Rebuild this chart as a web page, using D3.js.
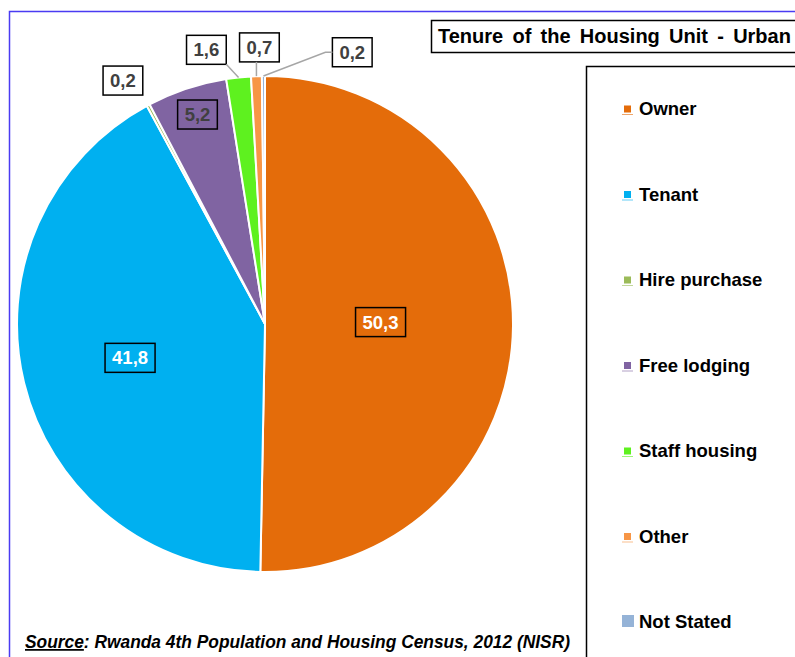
<!DOCTYPE html>
<html lang="en">
<head>
<meta charset="UTF-8" />
<title>Tenure of the Housing Unit - Urban</title>
<script src="https://cdn.jsdelivr.net/npm/d3@7"></script>
<style>
  body { margin: 0; background: #fff; }
  svg { display: block; font-family: "Liberation Sans", Arial, sans-serif; }
</style>
</head>
<body>
<div id="chart"></div>
<script>
// data
const categories = ["Owner", "Tenant", "Hire purchase", "Free lodging", "Staff housing", "Other", "Not Stated"];
const shares = [50.3, 41.8, 0.2, 5.2, 1.6, 0.7, 0.2];
const valueLabels = ["50,3", "41,8", "0,2", "5,2", "1,6", "0,7", "0,2"];
const colors = ["#E46C0A", "#00B0F0", "#9BBB59", "#8064A2", "#5EF11F", "#F79646", "#95B3D7"];

// label placement: radius factor, nudge x, nudge y, inside/outside
const labelPlace = [
  {k: 0.47, dx: -1, dy: -3, inside: true, fg: "#fff"},
  {k: 0.56, dx: 0, dy: 1, inside: true, fg: "#fff"},
  {k: 1.14, dx: -9, dy: 6, inside: false, leader: false},
  {k: 0.89, dx: 2, dy: 0, inside: true, fg: "#404040"},
  {k: 1.12, dx: -29, dy: 2, inside: false, leader: true},
  {k: 1.12, dx: 4, dy: 1, inside: false, leader: true},
  {k: 1.12, dx: 89, dy: 6, inside: false, leader: true}
];

const W = 795, H = 657;
const cx = 265, cy = 324, R = 248;

const svg = d3.select("#chart").append("svg")
  .attr("width", W).attr("height", H);

// outer frame (blue) and legend box
svg.append("path")
  .attr("d", "M9.5," + H + "V11.5H" + W)
  .attr("fill", "none").attr("stroke", "#4A3BF2").attr("stroke-width", 1.5);

svg.append("rect")
  .attr("x", 586.5).attr("y", 66.5).attr("width", 220).attr("height", 620)
  .attr("fill", "#fff").attr("stroke", "#000").attr("stroke-width", 1.5);

// title
svg.append("rect")
  .attr("x", 431.5).attr("y", 20.5).attr("width", 380).attr("height", 32)
  .attr("fill", "#fff").attr("stroke", "#000").attr("stroke-width", 1.5);
svg.append("text")
  .attr("x", 438).attr("y", 43)
  .style("font-size", "20px").style("font-weight", "bold").style("word-spacing", "3.7px")
  .attr("fill", "#000")
  .text("Tenure of the Housing Unit - Urban");

// pie
const pie = d3.pie().sort(null).value(d => d)(shares);
const arc = d3.arc().innerRadius(0).outerRadius(R);

const g = svg.append("g").attr("transform", `translate(${cx},${cy})`);

g.selectAll("path.slice")
  .data(pie)
  .join("path")
  .attr("class", "slice")
  .attr("d", arc)
  .attr("fill", (d, i) => colors[i])
  .attr("stroke", "#fff")
  .attr("stroke-width", 2);

function polar(a, r) {
  return [r * Math.sin(a), -r * Math.cos(a)];
}

// data labels
const fs = 18.5;
pie.forEach((d, i) => {
  const p = labelPlace[i];
  const mid = (d.startAngle + d.endAngle) / 2;
  const base = polar(mid, p.k * R);
  const lx = base[0] + p.dx, ly = base[1] + p.dy;

  const t = g.append("text")
    .attr("x", lx).attr("y", ly)
    .attr("text-anchor", "middle")
    .attr("dominant-baseline", "central")
    .style("font-size", fs + "px").style("font-weight", "bold")
    .attr("fill", p.inside ? p.fg : "#404040")
    .text(valueLabels[i]);

  const tw = t.node().getComputedTextLength();
  const bw = tw + 14, bh = 29;
  const bx = lx - bw / 2, by = ly - bh / 2;

  if (!p.inside && p.leader) {
    const s = polar(mid, R);
    let pts;
    if (bx - s[0] > 30) {
      pts = [s, [bx - 7, ly], [bx, ly]];
    } else {
      const ex = Math.max(bx, Math.min(bx + bw, s[0]));
      const ey = Math.max(by, Math.min(by + bh, s[1]));
      pts = [s, [ex, ey]];
    }
    g.append("path")
      .attr("d", d3.line()(pts))
      .attr("fill", "none").attr("stroke", "#A6A6A6").attr("stroke-width", 1.5);
  }

  g.insert("rect", () => t.node())
    .attr("x", bx).attr("y", by).attr("width", bw).attr("height", bh)
    .attr("fill", p.inside ? "none" : "#fff")
    .attr("stroke", "#000").attr("stroke-width", 1.5);
});

// legend
const legendY = d3.scalePoint().domain(categories).range([115, 628]);
const lg = svg.append("g");
categories.forEach((c, i) => {
  const y = legendY(c);
  if (c === "Not Stated") {
    lg.append("rect").attr("x", 622).attr("y", y - 13).attr("width", 12).attr("height", 12)
      .attr("fill", colors[i]);
  } else {
    lg.append("rect").attr("x", 624).attr("y", y - 9.5).attr("width", 7).attr("height", 7)
      .attr("fill", colors[i]);
    lg.append("line").attr("x1", 622).attr("x2", 633).attr("y1", y - 0.5).attr("y2", y - 0.5)
      .attr("stroke", colors[i]).attr("stroke-width", 1).attr("opacity", 0.6);
  }
  lg.append("text").attr("x", 639).attr("y", y)
    .style("font-size", "18.5px").style("font-weight", "bold")
    .attr("fill", "#000")
    .text(c);
});

// source note
const src = svg.append("text")
  .attr("x", 25).attr("y", 648)
  .attr("textLength", 545).attr("lengthAdjust", "spacingAndGlyphs")
  .style("font-size", "17.5px").style("font-weight", "bold").style("font-style", "italic")
  .attr("fill", "#000");
src.append("tspan").style("text-decoration", "underline").text("Source");
src.append("tspan").text(": Rwanda 4th Population and Housing Census, 2012 (NISR)");
</script>
</body>
</html>
